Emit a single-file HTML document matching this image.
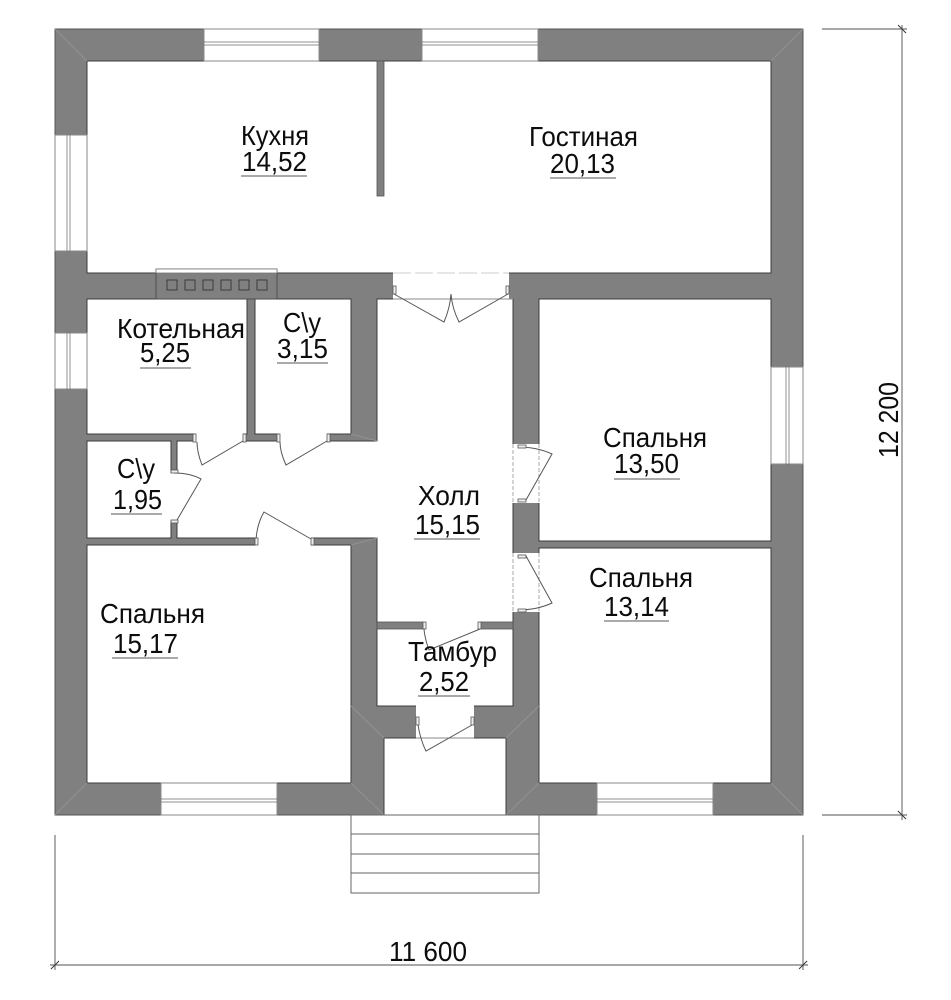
<!DOCTYPE html>
<html>
<head>
<meta charset="utf-8">
<style>
html,body{margin:0;padding:0;background:#fff;width:951px;height:1000px;overflow:hidden}
svg{display:block}
text{font-family:"Liberation Sans",sans-serif;font-size:27.5px;fill:#0c0c0c}
.room{fill:#fff;stroke:#3c3c3c;stroke-width:1}
.open{fill:#fff;stroke:none}
.win{fill:#fff;stroke:#8a8a8a;stroke-width:1}
.mul{fill:#fff;stroke:#777;stroke-width:.8}
.door{fill:none;stroke:#555;stroke-width:1}
.jamb{fill:#eee;stroke:#555;stroke-width:.8}
.ul{stroke:#777;stroke-width:1.3}
.diag{stroke:#929292;stroke-width:1}
.dim{stroke:#8c8c8c;stroke-width:1.4;fill:none}
.tick{stroke:#333;stroke-width:1;fill:none}
.thin{stroke:#8a8a8a;stroke-width:1}
</style>
</head>
<body>
<svg width="951" height="1000" viewBox="0 0 951 1000" xmlns="http://www.w3.org/2000/svg">
<!-- Building mass -->
<rect x="55" y="29" width="748" height="786" fill="#808080" stroke="#555" stroke-width="1"/>

<!-- Rooms -->
<rect class="room" x="87" y="61" width="684" height="212"/>
<rect class="room" x="87" y="299" width="160" height="135"/>
<rect class="room" x="255" y="299" width="96" height="135"/>
<rect class="room" x="87" y="441" width="84" height="97"/>
<rect class="room" x="87" y="545" width="264" height="238"/>
<rect class="room" x="539" y="299" width="232" height="242"/>
<rect class="room" x="539" y="548" width="232" height="235"/>
<polygon class="room" points="377,299 513,299 513,706 377,706 377,538 177,538 177,441 377,441"/>
<rect class="room" x="384" y="738" width="122" height="77"/>

<!-- Interior partitions -->
<rect x="377" y="61" width="7" height="135" fill="#808080" stroke="#555" stroke-width=".8"/>
<rect x="377" y="622" width="136" height="7" fill="#808080" stroke="#555" stroke-width=".8"/>

<!-- Door openings -->
<rect class="open" x="393" y="272" width="116" height="28"/>
<rect class="open" x="195" y="433" width="48" height="9"/>
<rect class="open" x="279" y="433" width="48" height="9"/>
<rect class="open" x="170" y="473" width="8" height="48"/>
<rect class="open" x="256" y="537" width="55" height="9"/>
<rect class="open" x="512" y="444" width="28" height="59"/>
<rect class="open" x="512" y="553" width="28" height="59"/>
<rect class="open" x="423" y="621" width="57" height="9"/>
<rect class="open" x="416" y="705" width="58" height="34"/>

<!-- Opening edge lines -->
<line x1="393" y1="273" x2="509" y2="273" stroke="#ccc" stroke-dasharray="18 4"/>
<line class="thin" x1="393" y1="299" x2="513" y2="299"/>
<line class="thin" x1="416" y1="738" x2="474" y2="738"/>
<line x1="513" y1="444" x2="513" y2="503" stroke="#aaa" stroke-dasharray="4 2"/>
<line x1="539" y1="444" x2="539" y2="503" stroke="#aaa" stroke-dasharray="4 2"/>
<line x1="513" y1="553" x2="513" y2="612" stroke="#aaa" stroke-dasharray="4 2"/>
<line x1="539" y1="553" x2="539" y2="612" stroke="#aaa" stroke-dasharray="4 2"/>

<!-- Corner diagonals -->
<line class="diag" x1="55" y1="29" x2="87" y2="61"/>
<line class="diag" x1="803" y1="29" x2="771" y2="61"/>
<line class="diag" x1="55" y1="815" x2="87" y2="783"/>
<line class="diag" x1="803" y1="815" x2="771" y2="783"/>
<line class="diag" x1="384" y1="815" x2="351" y2="783"/>
<line class="diag" x1="506" y1="815" x2="539" y2="783"/>
<line class="diag" x1="351" y1="706" x2="384" y2="738"/>
<line class="diag" x1="539" y1="706" x2="506" y2="738"/>
<line class="diag" x1="377" y1="441" x2="351" y2="434"/>
<line class="diag" x1="377" y1="538" x2="351" y2="545"/>

<!-- Windows -->
<rect class="win" x="204" y="29" width="115" height="32"/>
<rect class="mul" x="204" y="42" width="115" height="3"/>
<rect class="win" x="422" y="29" width="116" height="32"/>
<rect class="mul" x="422" y="42" width="116" height="3"/>
<rect class="win" x="161" y="783" width="116" height="32"/>
<rect class="mul" x="161" y="799" width="116" height="3"/>
<rect class="win" x="597" y="783" width="116" height="32"/>
<rect class="mul" x="597" y="799" width="116" height="3"/>
<rect class="win" x="55" y="135" width="32" height="116"/>
<rect class="mul" x="67" y="135" width="3" height="116"/>
<rect class="win" x="55" y="333" width="32" height="56"/>
<rect class="mul" x="67" y="333" width="3" height="56"/>
<rect class="win" x="771" y="367" width="32" height="97"/>
<rect class="mul" x="786" y="367" width="3" height="97"/>

<!-- Vent block -->
<rect x="156" y="269" width="121" height="30" fill="#808080" stroke="#444" stroke-width=".8"/>
<rect x="156" y="269" width="121" height="4" fill="#fff" stroke="#777" stroke-width=".8"/>
<g fill="#808080" stroke="#333" stroke-width=".9">
<rect x="167" y="280" width="10" height="10"/>
<rect x="185" y="280" width="10" height="10"/>
<rect x="203" y="280" width="10" height="10"/>
<rect x="221" y="280" width="10" height="10"/>
<rect x="239" y="280" width="10" height="10"/>
<rect x="257" y="280" width="10" height="10"/>
</g>

<!-- Doors -->
<g class="door">
<path d="M394 294 L444 322 Q450 308 451 294 Q452 308 459 322 L508 294"/>
<path d="M243 441 L202 465 Q197 452 197 442"/>
<path d="M327 441 L286 465 Q280 452 280 442"/>
<path d="M174 473 Q190 473 201 479 L177 520"/>
<path d="M256 540 Q257 524 264 512 L311 539"/>
<path d="M518 447 Q537 447 552 454 L526 500"/>
<path d="M526 556 L552 603 Q537 610 518 610"/>
<path d="M424 629 Q425 640 429 650 L480 629"/>
<path d="M417 717 Q419 737 426 751 L472 725"/>
</g>
<g class="jamb">
<rect x="393" y="286" width="3" height="8"/><rect x="506" y="286" width="3" height="8"/>
<rect x="193" y="434" width="3" height="8"/><rect x="243" y="434" width="3" height="8"/>
<rect x="277" y="434" width="3" height="8"/><rect x="327" y="434" width="3" height="8"/>
<rect x="171" y="470" width="7" height="3"/><rect x="171" y="520" width="7" height="3"/>
<rect x="255" y="538" width="3" height="7"/><rect x="311" y="538" width="3" height="7"/>
<rect x="518" y="445" width="8" height="3"/><rect x="518" y="499" width="8" height="3"/>
<rect x="518" y="555" width="8" height="3"/><rect x="518" y="609" width="8" height="3"/>
<rect x="423" y="622" width="3" height="7"/><rect x="478" y="622" width="3" height="7"/>
<rect x="416" y="717" width="3" height="8"/><rect x="471" y="717" width="3" height="8"/>
</g>

<!-- Steps -->
<g fill="none" stroke="#666" stroke-width="1">
<rect x="351" y="815" width="188" height="78"/>
<line x1="351" y1="834" x2="539" y2="834"/>
<line x1="351" y1="854" x2="539" y2="854"/>
<line x1="351" y1="873" x2="539" y2="873"/>
</g>

<!-- Dimensions -->
<g class="dim">
<line x1="822" y1="29" x2="907" y2="29"/>
<line x1="822" y1="815" x2="907" y2="815"/>
<line x1="902" y1="25" x2="902" y2="820"/>
<line x1="55" y1="835" x2="55" y2="970"/>
<line x1="803" y1="835" x2="803" y2="970"/>
<line x1="50" y1="965" x2="808" y2="965"/>
</g>
<g class="tick">
<line x1="898" y1="25" x2="906" y2="33"/>
<line x1="898" y1="811" x2="906" y2="819"/>
<line x1="51" y1="969" x2="59" y2="961"/>
<line x1="799" y1="969" x2="807" y2="961"/>
</g>

<!-- Labels -->
<text x="241" y="145" textLength="68" lengthAdjust="spacingAndGlyphs">Кухня</text>
<text x="242" y="171" textLength="65" lengthAdjust="spacingAndGlyphs">14,52</text>
<line class="ul" x1="241" y1="176" x2="307" y2="176"/>

<text x="529" y="146" textLength="109" lengthAdjust="spacingAndGlyphs">Гостиная</text>
<text x="550" y="173" textLength="65" lengthAdjust="spacingAndGlyphs">20,13</text>
<line class="ul" x1="550" y1="178" x2="616" y2="178"/>

<text x="117" y="338" textLength="128" lengthAdjust="spacingAndGlyphs">Котельная</text>
<text x="140" y="362" textLength="50" lengthAdjust="spacingAndGlyphs">5,25</text>
<line class="ul" x1="140" y1="368" x2="191" y2="368"/>

<text x="283" y="332" textLength="38" lengthAdjust="spacingAndGlyphs">C\y</text>
<text x="277" y="358" textLength="51" lengthAdjust="spacingAndGlyphs">3,15</text>
<line class="ul" x1="277" y1="363" x2="328" y2="363"/>

<text x="117" y="478" textLength="38" lengthAdjust="spacingAndGlyphs">C\y</text>
<text x="113" y="509" textLength="49" lengthAdjust="spacingAndGlyphs">1,95</text>
<line class="ul" x1="111" y1="514" x2="162" y2="514"/>

<text x="418" y="505" textLength="62" lengthAdjust="spacingAndGlyphs">Холл</text>
<text x="415" y="534" textLength="65" lengthAdjust="spacingAndGlyphs">15,15</text>
<line class="ul" x1="414" y1="539" x2="480" y2="539"/>

<text x="603" y="447" textLength="104" lengthAdjust="spacingAndGlyphs">Спальня</text>
<text x="614" y="473" textLength="65" lengthAdjust="spacingAndGlyphs">13,50</text>
<line class="ul" x1="614" y1="479" x2="680" y2="479"/>

<text x="589" y="587" textLength="104" lengthAdjust="spacingAndGlyphs">Спальня</text>
<text x="604" y="616" textLength="65" lengthAdjust="spacingAndGlyphs">13,14</text>
<line class="ul" x1="604" y1="621" x2="669" y2="621"/>

<text x="100" y="623" textLength="105" lengthAdjust="spacingAndGlyphs">Спальня</text>
<text x="113" y="653" textLength="65" lengthAdjust="spacingAndGlyphs">15,17</text>
<line class="ul" x1="112" y1="658" x2="178" y2="658"/>

<text x="408" y="661" textLength="89" lengthAdjust="spacingAndGlyphs">Тамбур</text>
<text x="419" y="691" textLength="50" lengthAdjust="spacingAndGlyphs">2,52</text>
<line class="ul" x1="418" y1="696" x2="470" y2="696"/>

<text x="389" y="961" textLength="78" lengthAdjust="spacingAndGlyphs">11 600</text>
<text transform="translate(898 458) rotate(-90)" x="0" y="0" textLength="76" lengthAdjust="spacingAndGlyphs">12 200</text>
</svg>
</body>
</html>
